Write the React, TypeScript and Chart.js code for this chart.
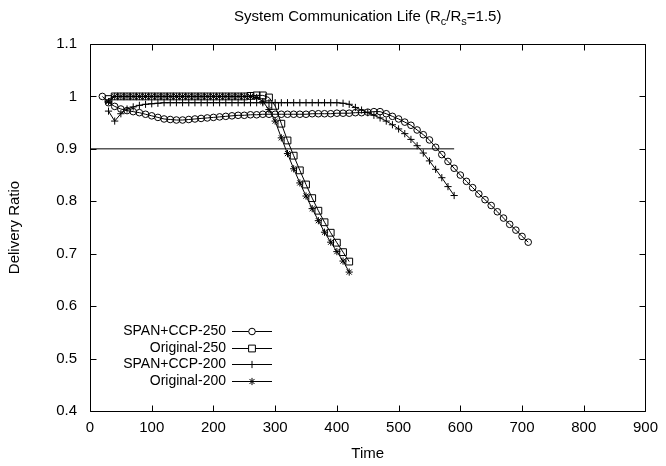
import React, { useEffect, useRef } from 'react';
import { Chart, registerables } from 'chart.js';
import { drawPoint } from 'chart.js/helpers';

Chart.register(...registerables);

const FONT = '"Liberation Sans", Arimo, Arial, Helvetica, sans-serif';

// ---- data ----
const span250Time = [20, 30, 40, 50, 60, 70, 80, 90, 100, 110, 120, 130, 140, 150, 160, 170, 180, 190, 200, 210, 220, 230, 240, 250, 260, 270, 280, 290, 300, 310, 320, 330, 340, 350, 360, 370, 380, 390, 400, 410, 420, 430, 440, 450, 460, 470, 480, 490, 500, 510, 520, 530, 540, 550, 560, 570, 580, 590, 600, 610, 620, 630, 640, 650, 660, 670, 680, 690, 700, 710];
const span250Ratio = [1.0, 0.988, 0.981, 0.976, 0.973, 0.971, 0.969, 0.966, 0.963, 0.96, 0.957, 0.956, 0.955, 0.955, 0.956, 0.957, 0.958, 0.959, 0.96, 0.961, 0.962, 0.963, 0.964, 0.964, 0.965, 0.965, 0.966, 0.966, 0.966, 0.966, 0.966, 0.966, 0.966, 0.966, 0.967, 0.967, 0.967, 0.967, 0.968, 0.968, 0.968, 0.969, 0.969, 0.97, 0.971, 0.971, 0.967, 0.962, 0.957, 0.951, 0.945, 0.936, 0.927, 0.917, 0.903, 0.889, 0.876, 0.863, 0.85, 0.838, 0.826, 0.814, 0.803, 0.792, 0.78, 0.768, 0.756, 0.745, 0.733, 0.722];

const orig250Time = [30, 40, 50, 60, 70, 80, 90, 100, 110, 120, 130, 140, 150, 160, 170, 180, 190, 200, 210, 220, 230, 240, 250, 260, 270, 280, 290, 300, 310, 320, 330, 340, 350, 360, 370, 380, 390, 400, 410, 420];
const orig250Ratio = [0.995, 1.0, 1.0, 1.0, 1.0, 1.0, 1.0, 1.0, 1.0, 1.0, 1.0, 1.0, 1.0, 1.0, 1.0, 1.0, 1.0, 1.0, 1.0, 1.0, 1.0, 1.0, 1.0, 1.001, 1.002, 1.002, 0.998, 0.982, 0.948, 0.916, 0.887, 0.859, 0.832, 0.806, 0.782, 0.76, 0.74, 0.721, 0.703, 0.685];

const span200Time = [30, 40, 50, 60, 70, 80, 90, 100, 110, 120, 130, 140, 150, 160, 170, 180, 190, 200, 210, 220, 230, 240, 250, 260, 270, 280, 290, 300, 310, 320, 330, 340, 350, 360, 370, 380, 390, 400, 410, 420, 430, 440, 450, 460, 470, 480, 490, 500, 510, 520, 530, 540, 550, 560, 570, 580, 590];
const span200Ratio = [0.972, 0.953, 0.967, 0.976, 0.98, 0.983, 0.985, 0.986, 0.987, 0.988, 0.988, 0.988, 0.988, 0.988, 0.988, 0.988, 0.988, 0.988, 0.988, 0.988, 0.988, 0.988, 0.988, 0.988, 0.988, 0.988, 0.988, 0.988, 0.988, 0.988, 0.988, 0.988, 0.988, 0.988, 0.988, 0.988, 0.988, 0.988, 0.987, 0.985, 0.979, 0.974, 0.969, 0.964, 0.959, 0.953, 0.946, 0.938, 0.929, 0.918, 0.906, 0.892, 0.877, 0.861, 0.845, 0.828, 0.811];

const orig200Time = [30, 40, 50, 60, 70, 80, 90, 100, 110, 120, 130, 140, 150, 160, 170, 180, 190, 200, 210, 220, 230, 240, 250, 260, 270, 280, 290, 300, 310, 320, 330, 340, 350, 360, 370, 380, 390, 400, 410, 420];
const orig200Ratio = [0.99, 1.0, 1.0, 1.0, 1.0, 1.0, 1.0, 1.0, 1.0, 1.0, 1.0, 1.0, 1.0, 1.0, 1.0, 1.0, 1.0, 1.0, 1.0, 1.0, 1.0, 1.0, 1.0, 1.0, 0.998, 0.99, 0.975, 0.953, 0.921, 0.891, 0.862, 0.835, 0.81, 0.786, 0.763, 0.741, 0.722, 0.704, 0.686, 0.665];

const thresholdTime = [0, 590];
const thresholdRatio = [0.9, 0.9];

const seriesLabels = ['SPAN+CCP-250', 'Original-250', 'SPAN+CCP-200', 'Original-200'];
const seriesMarkers = ['circle', 'rect', 'cross', 'star'];
const seriesRadius = [3.3, 4.8, 3.6, 3.6];

const xTickMin = 0;
const xTickMax = 900;
const xTickStep = 100;
const yTickMin = 0.4;
const yTickMax = 1.1;
const yTickStep = 0.1;

const titleParts = [
  { text: 'System Communication Life (R', sub: false },
  { text: 'c', sub: true },
  { text: '/R', sub: false },
  { text: 's', sub: true },
  { text: '=1.5)', sub: false },
];

const toPoints = (xs: number[], ys: number[]) => xs.map((x, i) => ({ x, y: ys[i] }));

const titlePlugin = {
  id: 'gnuTitle',
  afterDraw(chart: any) {
    const { ctx, chartArea } = chart;
    ctx.save();
    const mainFont = `15px ${FONT}`;
    const subFont = `11px ${FONT}`;
    let total = 0;
    for (const p of titleParts) {
      ctx.font = p.sub ? subFont : mainFont;
      total += ctx.measureText(p.text).width;
    }
    let x = (chartArea.left + chartArea.right) / 2 - total / 2;
    const y = 21;
    ctx.fillStyle = '#000';
    ctx.textBaseline = 'alphabetic';
    ctx.textAlign = 'left';
    for (const p of titleParts) {
      ctx.font = p.sub ? subFont : mainFont;
      ctx.fillText(p.text, x, p.sub ? y + 4 : y);
      x += ctx.measureText(p.text).width;
    }
    ctx.restore();
  },
};

const framePlugin = {
  id: 'gnuFrame',
  afterDatasetsDraw(chart: any) {
    const { ctx, chartArea: a, scales } = chart;
    const L = 6;
    ctx.save();
    ctx.strokeStyle = '#000';
    ctx.lineWidth = 1;
    const l = Math.round(a.left) + 0.5;
    const r = Math.round(a.right) + 0.5;
    const t = Math.round(a.top) + 0.5;
    const b = Math.round(a.bottom) + 0.5;
    ctx.beginPath();
    ctx.rect(l, t, r - l, b - t);
    for (const tk of scales.x.ticks) {
      const px = Math.round(scales.x.getPixelForValue(tk.value)) + 0.5;
      ctx.moveTo(px, b);
      ctx.lineTo(px, b - L);
      ctx.moveTo(px, t);
      ctx.lineTo(px, t + L);
    }
    for (const tk of scales.y.ticks) {
      const py = Math.round(scales.y.getPixelForValue(tk.value)) + 0.5;
      ctx.moveTo(l, py);
      ctx.lineTo(l + L, py);
      ctx.moveTo(r, py);
      ctx.lineTo(r - L, py);
    }
    ctx.stroke();
    ctx.restore();
  },
};

const legendPlugin = {
  id: 'gnuLegend',
  afterDraw(chart: any) {
    const { ctx, chartArea: a } = chart;
    ctx.save();
    ctx.font = `14px ${FONT}`;
    ctx.strokeStyle = '#000';
    ctx.lineWidth = 1;
    ctx.textAlign = 'right';
    ctx.textBaseline = 'middle';
    const textRight = a.left + 136;
    const lineStart = a.left + 142;
    const lineEnd = a.left + 182;
    const rowTop = a.bottom - 80;
    const rowGap = 16.7;
    seriesLabels.forEach((label, i) => {
      const y = Math.round(rowTop + i * rowGap) + 0.5;
      ctx.fillStyle = '#000';
      ctx.fillText(label, textRight, y);
      ctx.beginPath();
      ctx.moveTo(lineStart, y);
      ctx.lineTo(lineEnd, y);
      ctx.stroke();
      ctx.fillStyle = '#fff';
      drawPoint(ctx, { pointStyle: seriesMarkers[i] as any, radius: seriesRadius[i], rotation: 0, borderWidth: 1 } as any, (lineStart + lineEnd) / 2, y);
    });
    ctx.restore();
  },
};

export default function App() {
  const ref = useRef<HTMLCanvasElement | null>(null);
  useEffect(() => {
    if (!ref.current) return;
    const seriesData = [
      toPoints(span250Time, span250Ratio),
      toPoints(orig250Time, orig250Ratio),
      toPoints(span200Time, span200Ratio),
      toPoints(orig200Time, orig200Ratio),
    ];
    const datasets: any[] = seriesData.map((d, i) => ({
      label: seriesLabels[i],
      data: d,
      showLine: true,
      borderColor: '#000',
      borderWidth: 1,
      backgroundColor: 'rgba(0,0,0,0)',
      pointBackgroundColor: 'rgba(0,0,0,0)',
      pointBorderColor: '#000',
      pointBorderWidth: 1,
      pointStyle: seriesMarkers[i],
      pointRadius: seriesRadius[i],
      tension: 0,
    }));
    datasets.push({
      label: 'threshold',
      data: toPoints(thresholdTime, thresholdRatio),
      showLine: true,
      borderColor: '#000',
      borderWidth: 1,
      pointRadius: 0,
      tension: 0,
    });
    const chart = new Chart(ref.current, {
      type: 'scatter',
      data: { datasets },
      options: {
        responsive: false,
        animation: false,
        devicePixelRatio: 1,
        layout: { padding: { top: 44, right: 16, left: 0, bottom: 0 } },
        plugins: { legend: { display: false }, title: { display: false }, tooltip: { enabled: false } },
        scales: {
          x: {
            type: 'linear',
            min: xTickMin,
            max: xTickMax,
            grid: { display: false, drawTicks: false },
            border: { display: false },
            ticks: {
              stepSize: xTickStep,
              color: '#000',
              padding: 8,
              font: { family: FONT, size: 15 },
              maxRotation: 0,
              autoSkip: false,
            },
            title: { display: true, text: 'Time', color: '#000', font: { family: FONT, size: 15 }, padding: { top: 0, bottom: 3 } },
            afterFit: (s: any) => { s.height = 55; },
          },
          y: {
            type: 'linear',
            min: yTickMin,
            max: yTickMax,
            grid: { display: false, drawTicks: false },
            border: { display: false },
            ticks: {
              stepSize: yTickStep,
              color: '#000',
              padding: 13,
              font: { family: FONT, size: 15 },
              callback: (v: any) => String(Math.round(Number(v) * 10) / 10),
            },
            title: { display: true, text: 'Delivery Ratio', color: '#000', font: { family: FONT, size: 15 }, padding: { top: 6, bottom: 0 } },
            afterFit: (s: any) => { s.width = 90; },
          },
        },
      },
      plugins: [framePlugin, titlePlugin, legendPlugin],
    } as any);
    return () => chart.destroy();
  }, []);
  return (
    <div style={{ position: 'absolute', left: 0, top: 0, width: 666, height: 466, background: '#fff' }}>
      <canvas ref={ref} width={666} height={466} style={{ display: 'block' }} />
    </div>
  );
}
